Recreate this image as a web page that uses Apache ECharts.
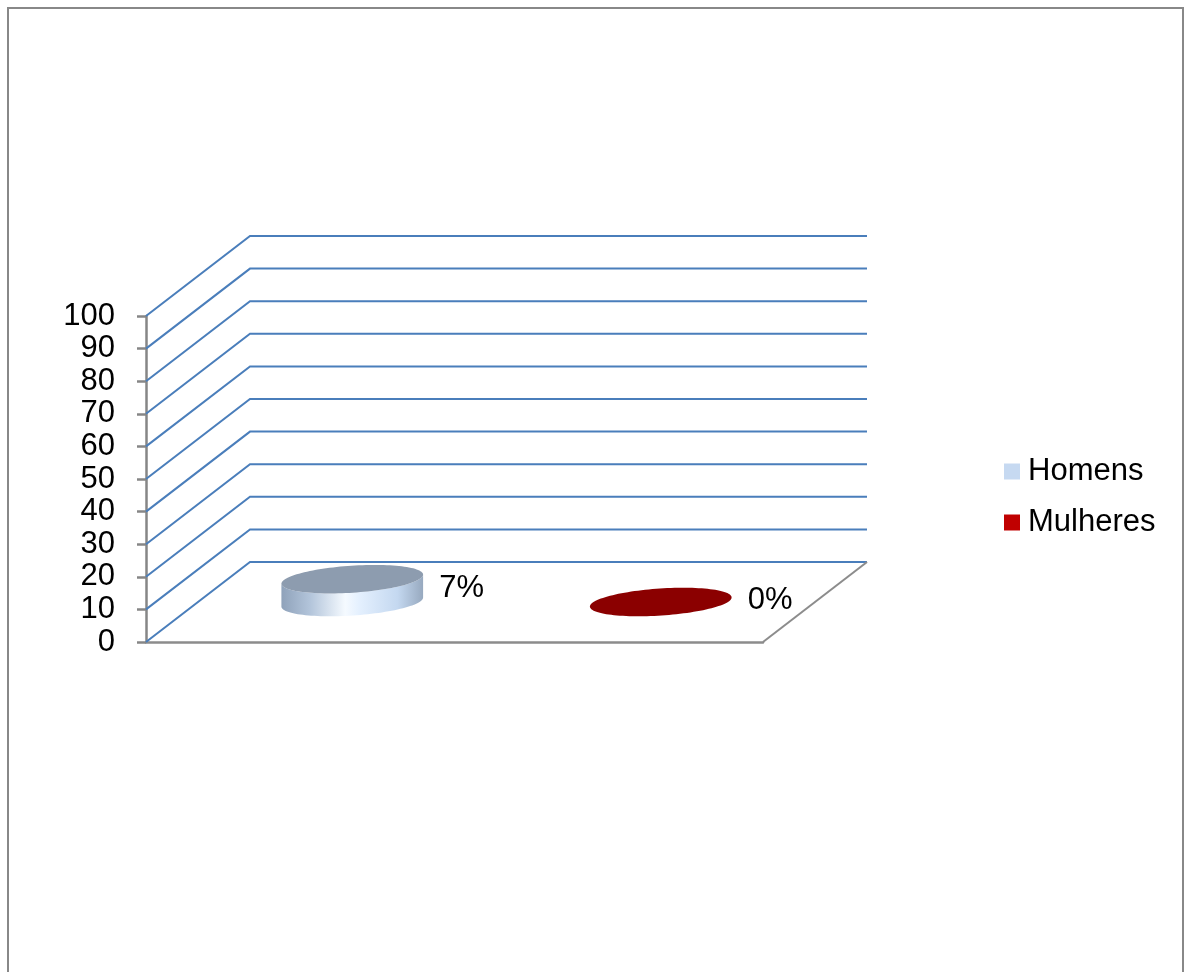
<!DOCTYPE html>
<html>
<head>
<meta charset="utf-8">
<script src="https://cdn.jsdelivr.net/npm/echarts@6/dist/echarts.min.js"></script>
<style>
html,body{margin:0;padding:0;background:#fff;}
#chart{width:1187px;height:972px;}
</style>
</head>
<body>
<div id="chart"></div>
<script>
// ---- data ----
const seriesNames = ['Homens', 'Mulheres'];
const seriesValues = [7, 0];
const yTicks = [0, 10, 20, 30, 40, 50, 60, 70, 80, 90, 100];
const labelSuffix = '%';

// ---- style constants ----
const DX = 104, DY = -80;           // depth offset of back wall
const legendColors = ['#C6D9F1', '#C00000'];
const topColors = ['#8D9CAF', '#8B0000'];
const RX = 71, RY = 13.5, PHI = -3.8 * Math.PI / 180;
const FONT = '"Liberation Sans", Arial, sans-serif';

function ellPt(cx, cy, t) {
  const c = Math.cos(t), s = Math.sin(t);
  return [cx + RX * c * Math.cos(PHI) - RY * s * Math.sin(PHI),
          cy + RX * c * Math.sin(PHI) + RY * s * Math.cos(PHI)];
}
function ellipsePoints(cx, cy, t0, t1, n) {
  const pts = [];
  for (let i = 0; i <= n; i++) pts.push(ellPt(cx, cy, t0 + (t1 - t0) * i / n));
  return pts;
}

function makeCylinderRender(idx) {
  return function (params, api) {
    const xi = api.value(0), v = api.value(1);
    const p0 = api.coord([xi, 0]);
    const pv = api.coord([xi, v]);
    const cx = p0[0] + DX / 2;
    const base = p0[1] + DY / 2;
    const top = pv[1] + DY / 2;
    const children = [];
    if (base - top > 0.5) {
      const front = ellipsePoints(cx, base, 0, Math.PI, 60);
      const topFront = ellipsePoints(cx, top, Math.PI, 0, 60);
      children.push({
        type: 'polygon',
        shape: { points: front.concat(topFront) },
        style: {
          fill: new echarts.graphic.LinearGradient(0, 0, 1, 0, [
            { offset: 0, color: '#8FA2BA' },
            { offset: 0.2, color: '#B2C4DA' },
            { offset: 0.45, color: '#F5FAFF' },
            { offset: 0.55, color: '#E4F0FE' },
            { offset: 0.82, color: '#C4D8F0' },
            { offset: 1, color: '#97A9BF' }
          ])
        }
      });
    }
    children.push({
      type: 'polygon',
      shape: { points: ellipsePoints(cx, top, 0, Math.PI * 2, 120) },
      style: { fill: topColors[idx] }
    });
    children.push({
      type: 'text',
      style: {
        x: cx + 87, y: (top + base) / 2 - 2,
        text: v + labelSuffix,
        fill: '#000', font: '31px ' + FONT,
        align: 'left', verticalAlign: 'middle'
      }
    });
    return { type: 'group', children: children };
  };
}

function wallRender(params, api) {
  const t = api.value(1);
  const cs = params.coordSys;
  const y = api.coord([0, t])[1];
  const gx = cs.x, gw = cs.width;
  const children = [{
    type: 'polyline',
    shape: { points: [[gx, y], [gx + DX, y + DY], [gx + gw + DX, y + DY]] },
    style: { stroke: '#4A7EBB', lineWidth: 2, fill: null }
  }];
  if (t === yTicks[0]) {
    children.push({
      type: 'line',
      shape: { x1: gx + gw, y1: y, x2: gx + gw + DX, y2: y + DY },
      style: { stroke: '#8C8C8C', lineWidth: 2 }
    });
  }
  return { type: 'group', children: children };
}

const series = [{
  type: 'custom',
  name: 'walls',
  data: yTicks.map(t => [0, t]),
  renderItem: wallRender,
  silent: true,
  z: 1
}];
seriesNames.forEach((name, i) => {
  series.push({
    type: 'custom',
    name: name,
    data: [[i, seriesValues[i]]],
    renderItem: makeCylinderRender(i),
    itemStyle: { color: legendColors[i] },
    z: 3
  });
});

const chart = echarts.init(document.getElementById('chart'), null, { renderer: 'canvas' });
chart.setOption({
  animation: false,
  backgroundColor: '#fff',
  graphic: [{
    type: 'rect',
    shape: { x: 8, y: 8, width: 1175, height: 1000 },
    style: { fill: null, stroke: '#888888', lineWidth: 2 },
    z: 0
  }],
  grid: { left: 146, top: 316, width: 617, height: 326, containLabel: false },
  xAxis: {
    type: 'category',
    data: seriesNames,
    axisLine: { show: true, lineStyle: { color: '#8C8C8C', width: 2.5 } },
    axisTick: { show: false },
    axisLabel: { show: false },
    splitLine: { show: false }
  },
  yAxis: {
    type: 'value',
    min: 0, max: 100, interval: 10,
    axisLine: { show: true, lineStyle: { color: '#868686', width: 2.5 } },
    axisTick: { show: true, length: 9, lineStyle: { color: '#868686', width: 2.5 } },
    axisLabel: { margin: 31, fontSize: 31, color: '#000', fontFamily: FONT },
    splitLine: { show: false }
  },
  legend: {
    data: seriesNames,
    orient: 'vertical',
    left: 1004, top: 456,
    padding: 0,
    itemWidth: 16, itemHeight: 16, itemGap: 20,
    icon: 'rect',
    selectedMode: false,
    textStyle: { fontSize: 31, lineHeight: 30, color: '#000', fontFamily: FONT, padding: [0, 0, 0, 3] }
  },
  series: series
});
</script>
</body>
</html>
